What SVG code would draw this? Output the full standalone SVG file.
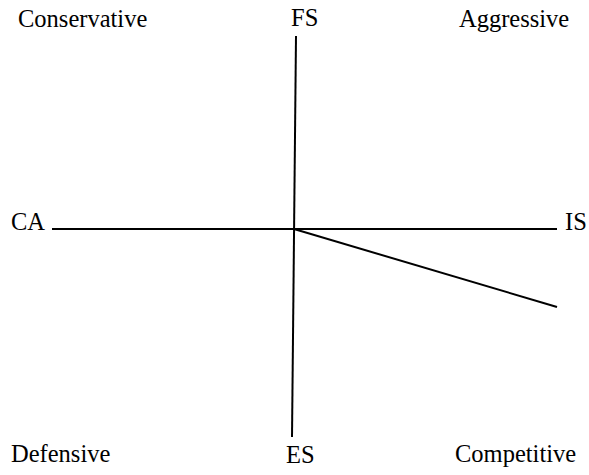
<svg xmlns="http://www.w3.org/2000/svg" width="589" height="475" viewBox="0 0 589 475">
<style>
.t{font-family:'Liberation Serif','Times New Roman',serif;font-size:24.5px;fill:#000}
line{stroke:#000;stroke-width:2}
</style>
<rect width="589" height="475" fill="#fff"/>
<g id="connectors">
<line x1="52" y1="229" x2="557" y2="229"/>
<line x1="296" y1="36" x2="292" y2="437"/>
<line x1="294" y1="229" x2="557" y2="307"/>
</g>
<g id="conservative"><text class="t" x="18" y="27">Conservative</text></g>
<g id="fs"><text class="t" x="291" y="26">FS</text></g>
<g id="aggressive"><text class="t" x="459" y="27">Aggressive</text></g>
<g id="ca"><text class="t" x="11" y="230">CA</text></g>
<g id="is"><text class="t" x="565" y="230">IS</text></g>
<g id="defensive"><text class="t" x="11" y="462">Defensive</text></g>
<g id="es"><text class="t" x="286" y="463">ES</text></g>
<g id="competitive"><text class="t" x="455" y="462">Competitive</text></g>
</svg>
